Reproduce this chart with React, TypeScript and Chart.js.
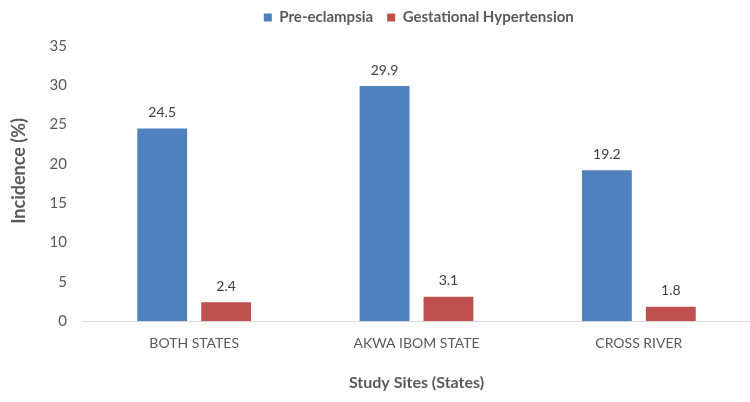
import React, { useEffect, useRef } from "react";
import { Chart, registerables, Plugin } from "chart.js";

Chart.register(...registerables);

const categories = ["BOTH STATES", "AKWA IBOM STATE", "CROSS RIVER"];
const preEclampsia = [24.5, 29.9, 19.2];
const gestationalHypertension = [2.4, 3.1, 1.8];
const yTicks = [0, 5, 10, 15, 20, 25, 30, 35];
const yTitle = "Incidence (%)";

const FONT = "Lato, 'Open Sans', sans-serif";
const TEXT = "#595959";

// Writes each bar's value just above it.
const valueLabels: Plugin<"bar"> = {
  id: "valueLabels",
  afterDatasetsDraw(chart) {
    const { ctx } = chart;
    ctx.save();
    ctx.font = `14px ${FONT}`;
    ctx.fillStyle = "#404040";
    ctx.textAlign = "center";
    ctx.textBaseline = "middle";
    chart.data.datasets.forEach((ds, i) => {
      const meta = chart.getDatasetMeta(i);
      meta.data.forEach((bar, j) => {
        const v = ds.data[j] as number;
        ctx.fillText(v.toFixed(1), bar.x, bar.y - 16);
      });
    });
    ctx.restore();
  },
};

// Vertical axis title, sitting a little above the middle of the plot.
const yAxisTitle: Plugin<"bar"> = {
  id: "yAxisTitle",
  afterDraw(chart) {
    const { ctx, chartArea } = chart;
    ctx.save();
    ctx.translate(19, (chartArea.top + chartArea.bottom) / 2 - 12.5);
    ctx.rotate(-Math.PI / 2);
    ctx.font = `bold 18px ${FONT}`;
    ctx.fillStyle = TEXT;
    ctx.textAlign = "center";
    ctx.textBaseline = "middle";
    ctx.fillText(yTitle, 0, 0);
    ctx.restore();
  },
};

// Extra room below the legend, and the legend centred over the plot area
// rather than over the whole canvas.
const legendPlacement: Plugin<"bar"> = {
  id: "legendPlacement",
  beforeInit(chart) {
    const legend = chart.legend as any;
    if (!legend) return;
    const fit = legend.fit;
    legend.fit = function () {
      fit.call(this);
      this.height += 11;
    };
  },
  afterLayout(chart) {
    const legend = chart.legend as any;
    if (!legend) return;
    legend.left += 54;
    legend.width = legend.right - legend.left;
  },
};

export default function App() {
  const ref = useRef<HTMLCanvasElement>(null);

  useEffect(() => {
    if (!ref.current) return;
    const chart = new Chart(ref.current, {
      type: "bar",
      data: {
        labels: categories,
        datasets: [
          {
            label: "Pre-eclampsia",
            data: preEclampsia,
            backgroundColor: "#4F81BD",
            categoryPercentage: 0.575,
            barPercentage: 0.78,
          },
          {
            label: "Gestational Hypertension",
            data: gestationalHypertension,
            backgroundColor: "#C0504D",
            categoryPercentage: 0.575,
            barPercentage: 0.78,
          },
        ],
      },
      options: {
        animation: false,
        responsive: false,
        maintainAspectRatio: false,
        layout: { padding: { left: 33.6, right: 0, top: -4, bottom: 10 } },
        plugins: {
          legend: {
            position: "top",
            labels: {
              boxWidth: 8,
              boxHeight: 8,
              padding: 14,
              color: TEXT,
              font: { family: FONT, size: 15, weight: "bold" },
            },
          },
          tooltip: { enabled: false },
        },
        scales: {
          x: {
            grid: { display: false, drawTicks: false },
            border: { display: true, color: "#d9d9d9", width: 1 },
            ticks: {
              color: TEXT,
              padding: 14.5,
              font: { family: FONT, size: 14 },
            },
            title: {
              display: true,
              text: "Study Sites (States)",
              color: TEXT,
              font: { family: FONT, size: 16, weight: "bold" },
              padding: { top: 6, bottom: 0 },
            },
          },
          y: {
            min: 0,
            max: 35,
            afterBuildTicks(scale) {
              scale.ticks = yTicks.map((v) => ({ value: v }));
            },
            grid: { display: false, drawTicks: false },
            border: { display: false },
            ticks: {
              color: TEXT,
              padding: 16,
              font: { family: FONT, size: 15 },
            },
          },
        },
      },
      plugins: [valueLabels, yAxisTitle, legendPlacement],
    });
    return () => chart.destroy();
  }, []);

  return (
    <div style={{ position: "absolute", left: 0, top: 0, width: 750, height: 402, background: "#fff" }}>
      <canvas ref={ref} width={750} height={402} />
    </div>
  );
}
